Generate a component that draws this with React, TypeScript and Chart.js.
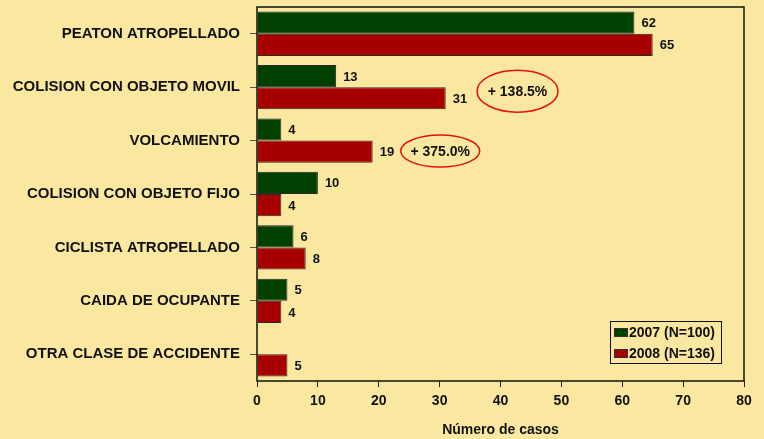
import React, { useEffect, useRef } from "react";
import { Chart, registerables } from "chart.js";

Chart.register(...registerables);

const categories = [
  "PEATON ATROPELLADO",
  "COLISION CON OBJETO MOVIL",
  "VOLCAMIENTO",
  "COLISION CON OBJETO FIJO",
  "CICLISTA ATROPELLADO",
  "CAIDA DE OCUPANTE",
  "OTRA CLASE DE ACCIDENTE",
];
const values2007 = [62, 13, 4, 10, 6, 5, 0];
const values2008 = [65, 31, 19, 4, 8, 4, 5];
const seriesLabels = ["2007 (N=100)", "2008 (N=136)"];
const xMin = 0;
const xMax = 80;
const xStep = 10;
const axisTitle = "Número de casos";
const changeLabels = ["+ 138.5%", "+ 375.0%"];
const changeCategories = [1, 2];

const BG = "#FAE8A0";
const GREEN = "#004000";
const RED = "#A80000";
const FONT = "'Liberation Sans', Arial, sans-serif";

const bgPlugin = {
  id: "bg",
  beforeDraw(chart: any) {
    const ctx = chart.ctx;
    ctx.save();
    ctx.fillStyle = BG;
    ctx.fillRect(0, 0, chart.width, chart.height);
    ctx.restore();
  },
};

const framePlugin = {
  id: "frame",
  afterDraw(chart: any) {
    const { ctx, chartArea: a } = chart;
    ctx.save();
    ctx.strokeStyle = "#111";
    ctx.lineWidth = 1.5;
    ctx.strokeRect(a.left, a.top, a.right - a.left, a.bottom - a.top);
    ctx.restore();
  },
};

const valueLabelPlugin = {
  id: "valueLabels",
  afterDatasetsDraw(chart: any) {
    const ctx = chart.ctx;
    ctx.save();
    ctx.font = `bold 13px ${FONT}`;
    ctx.fillStyle = "#111";
    ctx.textAlign = "left";
    ctx.textBaseline = "middle";
    chart.data.datasets.forEach((ds: any, di: number) => {
      const meta = chart.getDatasetMeta(di);
      meta.data.forEach((el: any, i: number) => {
        const v = ds.data[i];
        if (!v) return;
        ctx.fillText(String(v), el.x + 7, el.y + 1);
      });
    });
    ctx.restore();
  },
};

const annotationPlugin = {
  id: "changeNotes",
  afterDraw(chart: any) {
    const ctx = chart.ctx;
    const xs = chart.scales.x;
    const ys = chart.scales.y;
    const geo = [
      { v: 42.8, dy: 4, rx: 40.5, ry: 21 },
      { v: 30.1, dy: 10.5, rx: 39.5, ry: 16 },
    ];
    ctx.save();
    changeLabels.forEach((t, i) => {
      const g = geo[i];
      const cx = xs.getPixelForValue(g.v);
      const cy = ys.getPixelForValue(changeCategories[i]) + g.dy;
      ctx.beginPath();
      ctx.strokeStyle = "#E81010";
      ctx.lineWidth = 1.5;
      ctx.ellipse(cx, cy, g.rx, g.ry, 0, 0, Math.PI * 2);
      ctx.stroke();
      ctx.font = `bold 14px ${FONT}`;
      ctx.fillStyle = "#111";
      ctx.textAlign = "center";
      ctx.textBaseline = "middle";
      ctx.fillText(t, cx, cy + 1);
    });
    ctx.restore();
  },
};

const legendPlugin = {
  id: "boxLegend",
  afterDraw(chart: any) {
    const { ctx, chartArea: a } = chart;
    const right = a.right - 23;
    const bottom = a.bottom - 18;
    const w = 111;
    const h = 42;
    const left = right - w;
    const top = bottom - h;
    ctx.save();
    ctx.fillStyle = BG;
    ctx.fillRect(left, top, w, h);
    ctx.strokeStyle = "#111";
    ctx.lineWidth = 1;
    ctx.strokeRect(left + 0.5, top + 0.5, w, h);
    ctx.font = `bold 14px ${FONT}`;
    ctx.textAlign = "left";
    ctx.textBaseline = "middle";
    chart.data.datasets.forEach((ds: any, i: number) => {
      const cy = top + 11.5 + i * 21;
      ctx.fillStyle = ds.backgroundColor;
      ctx.fillRect(left + 4, cy - 4.5, 14, 9);
      ctx.strokeStyle = "#333";
      ctx.strokeRect(left + 4.5, cy - 4, 13, 8);
      ctx.fillStyle = "#111";
      ctx.fillText(ds.label, left + 19, cy + 1);
    });
    ctx.restore();
  },
};

export default function App() {
  const ref = useRef<HTMLCanvasElement | null>(null);
  useEffect(() => {
    if (!ref.current) return;
    const chart = new Chart(ref.current, {
      type: "bar",
      data: {
        labels: categories,
        datasets: [
          {
            label: seriesLabels[0],
            data: values2007,
            backgroundColor: GREEN,
            borderColor: "#2a2a2a",
            borderWidth: 1,
            categoryPercentage: 0.83,
            barPercentage: 1.0,
          },
          {
            label: seriesLabels[1],
            data: values2008,
            backgroundColor: RED,
            borderColor: "#2a2a2a",
            borderWidth: 1,
            categoryPercentage: 0.83,
            barPercentage: 1.0,
          },
        ],
      },
      options: {
        indexAxis: "y",
        animation: false,
        responsive: false,
        maintainAspectRatio: false,
        layout: { padding: { top: 7, right: 20, left: 0, bottom: 0 } },
        plugins: {
          legend: { display: false },
          tooltip: { enabled: false },
        },
        scales: {
          x: {
            min: xMin,
            max: xMax,
            ticks: {
              stepSize: xStep,
              color: "#111",
              padding: 6,
              font: { family: FONT, size: 14, weight: "bold" },
            },
            grid: {
              drawOnChartArea: false,
              drawTicks: true,
              tickLength: 6,
              color: "#222",
              lineWidth: 1,
            },
            border: { display: false },
            title: {
              display: true,
              text: axisTitle,
              color: "#111",
              padding: { top: 0, bottom: 0 },
              font: { family: FONT, size: 14, weight: "bold" },
            },
            afterFit(scale: any) {
              scale.height = 58;
              scale.paddingLeft = 0;
              scale.paddingRight = 0;
            },
          },
          y: {
            ticks: {
              color: "#111",
              padding: 10,
              font: { family: FONT, size: 15, weight: "bold" },
            },
            grid: {
              offset: false,
              drawOnChartArea: false,
              drawTicks: true,
              tickLength: 7,
              color: "#555",
              lineWidth: 1,
            },
            border: { display: false },
            afterFit(scale: any) {
              scale.width = 257;
              scale.paddingTop = 0;
              scale.paddingBottom = 0;
            },
          },
        },
      },
      plugins: [bgPlugin, valueLabelPlugin, framePlugin, annotationPlugin, legendPlugin],
    } as any);
    return () => chart.destroy();
  }, []);
  return (
    <div style={{ position: "fixed", left: 0, top: 0, width: 764, height: 439, background: BG }}>
      <canvas ref={ref} width={764} height={439} style={{ display: "block", width: 764, height: 439 }} />
    </div>
  );
}
